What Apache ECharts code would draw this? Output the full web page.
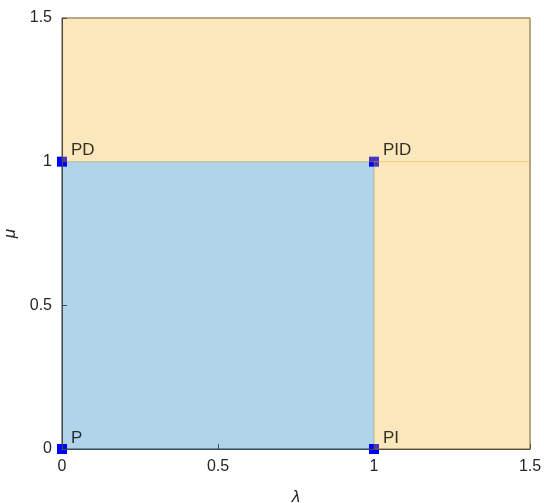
<!DOCTYPE html>
<html><head><meta charset="utf-8">
<script src="https://cdn.jsdelivr.net/npm/echarts@6/dist/echarts.min.js"></script>
<style>html,body{margin:0;padding:0;background:#fff}#c{width:544px;height:503px}</style>
</head><body><div id="c"></div>
<script>
// Regions: [x0, y0, x1, y1]
var blueRegions = [[0, 0, 1, 1]];
var orangeRegions = [[0, 1, 1.5, 1.5], [1, 0, 1.5, 1]];
// Controller points
var pointNames = ['P', 'PI', 'PD', 'PID'];
var pointX = [0, 1, 0, 1];
var pointY = [0, 0, 1, 1];

function rectRender(fill, stroke) {
  return function (params, api) {
    var p0 = api.coord([api.value(0), api.value(1)]);
    var p1 = api.coord([api.value(2), api.value(3)]);
    return {
      type: 'rect',
      shape: { x: p0[0], y: p1[1], width: p1[0] - p0[0], height: p0[1] - p1[1] },
      style: { fill: fill, stroke: stroke, lineWidth: 1, opacity: 0.3 }
    };
  };
}

var chart = echarts.init(document.getElementById('c'), null, { renderer: 'canvas' });
var fontFam = '"Liberation Sans", Arial, Helvetica, sans-serif';
var pts = pointNames.map(function (n, i) { return { name: n, value: [pointX[i], pointY[i]] }; });
chart.setOption({
  animation: false,
  grid: { left: 62, right: 14, top: 18, bottom: 54, containLabel: false, outerBoundsMode: 'none',
    show: true, borderColor: '#4a4a4a', borderWidth: 1, backgroundColor: 'transparent' },
  xAxis: {
    type: 'value', min: 0, max: 1.5, interval: 0.5, z: 5,
    name: 'λ', nameLocation: 'middle', nameGap: 40,
    nameTextStyle: { fontFamily: fontFam, fontSize: 17, fontStyle: 'italic', color: '#262626' },
    axisLine: { show: true, lineStyle: { color: '#4a4a4a', width: 1 } },
    axisTick: { show: true, inside: true, length: 5, lineStyle: { color: '#4a4a4a' } },
    axisLabel: { fontFamily: fontFam, fontSize: 16, color: '#262626', margin: 10,
      formatter: function (v) { return String(v); } },
    splitLine: { show: false }
  },
  yAxis: {
    type: 'value', min: 0, max: 1.5, interval: 0.5, z: 5,
    name: 'μ', nameLocation: 'middle', nameGap: 42, nameRotate: 90,
    nameTextStyle: { fontFamily: fontFam, fontSize: 17, fontStyle: 'italic', color: '#262626' },
    axisLine: { show: true, lineStyle: { color: '#4a4a4a', width: 1 } },
    axisTick: { show: true, inside: true, length: 5, lineStyle: { color: '#4a4a4a' } },
    axisLabel: { fontFamily: fontFam, fontSize: 16, color: '#262626', margin: 10,
      formatter: function (v) { return String(v); } },
    splitLine: { show: false }
  },
  series: [
    {
      type: 'custom', z: 1, silent: true,
      data: blueRegions,
      renderItem: rectRender('rgb(0,114,189)', 'rgb(0,114,189)')
    },
    {
      type: 'scatter', z: 2, symbol: 'rect', symbolSize: 10,
      itemStyle: { color: '#0000ff', opacity: 1 },
      data: pts
    },
    {
      type: 'custom', z: 3, silent: true,
      data: orangeRegions,
      renderItem: rectRender('rgb(237,177,32)', 'rgb(237,177,32)')
    },
    {
      type: 'scatter', z: 4, symbol: 'circle', symbolSize: 2, silent: true,
      itemStyle: { color: 'rgba(0,0,0,0)' },
      data: pts,
      label: {
        show: true, position: 'right', distance: 0, offset: [8, -11],
        formatter: '{b}', fontFamily: fontFam, fontSize: 17, color: '#000'
      }
    }
  ]
});
</script></body></html>
